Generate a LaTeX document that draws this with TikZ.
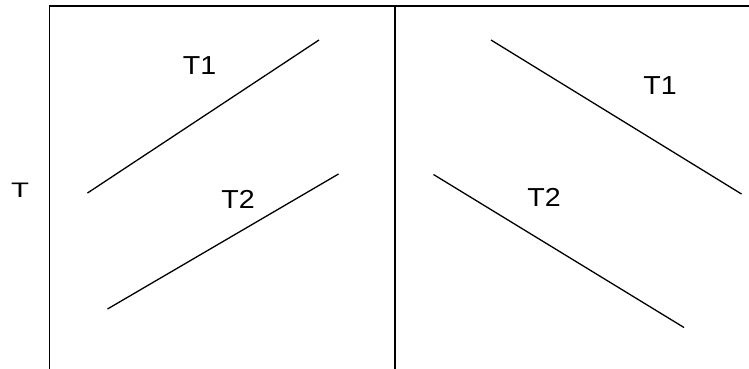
\documentclass[tikz,border=0pt]{standalone}
\usepackage{fontspec}
\setmainfont{Liberation Sans}
\usetikzlibrary{calc}

\begin{document}
\begin{tikzpicture}[x=1pt,y=-1pt]
      \useasboundingbox (0,0) rectangle (749,368);
      \clip (0,0) rectangle (749,368);

      \coordinate (L) at (49.5,6);
      \coordinate (M) at (395,6);

      \draw[line width=1.7pt] (L) rectangle (760,380);
      \draw[line width=1.7pt] (M)--($(M)+(0,370)$);

      \node[font=\fontsize{21}{21}\selectfont,xscale=1.4,transform shape] (tlab) at (20,190.5) {T};

      \coordinate (A) at (87.5,193);
      \coordinate (B) at (319,40);
      \draw[line width=1.3pt] (A)--(B);
      \node[font=\fontsize{26}{26}\selectfont,xscale=1.1,transform shape] (t1l) at (199.5,65.5) {T1};

      \coordinate (C) at (107.5,309);
      \coordinate (D) at (338.5,174);
      \draw[line width=1.3pt] (C)--(D);
      \node[font=\fontsize{26}{26}\selectfont,xscale=1.1,transform shape] (t2l) at (238,199) {T2};

      \coordinate (E) at (491,40);
      \coordinate (F) at (741.5,194);
      \draw[line width=1.3pt] (E)--(F);
      \node[font=\fontsize{26}{26}\selectfont,xscale=1.1,transform shape] (t1r) at (660,86) {T1};

      \coordinate (G) at (433.5,174.5);
      \coordinate (H) at (684,327.5);
      \draw[line width=1.3pt] (G)--(H);
      \node[font=\fontsize{26}{26}\selectfont,xscale=1.1,transform shape] (t2r) at (544,197.5) {T2};
\end{tikzpicture}
\end{document}
